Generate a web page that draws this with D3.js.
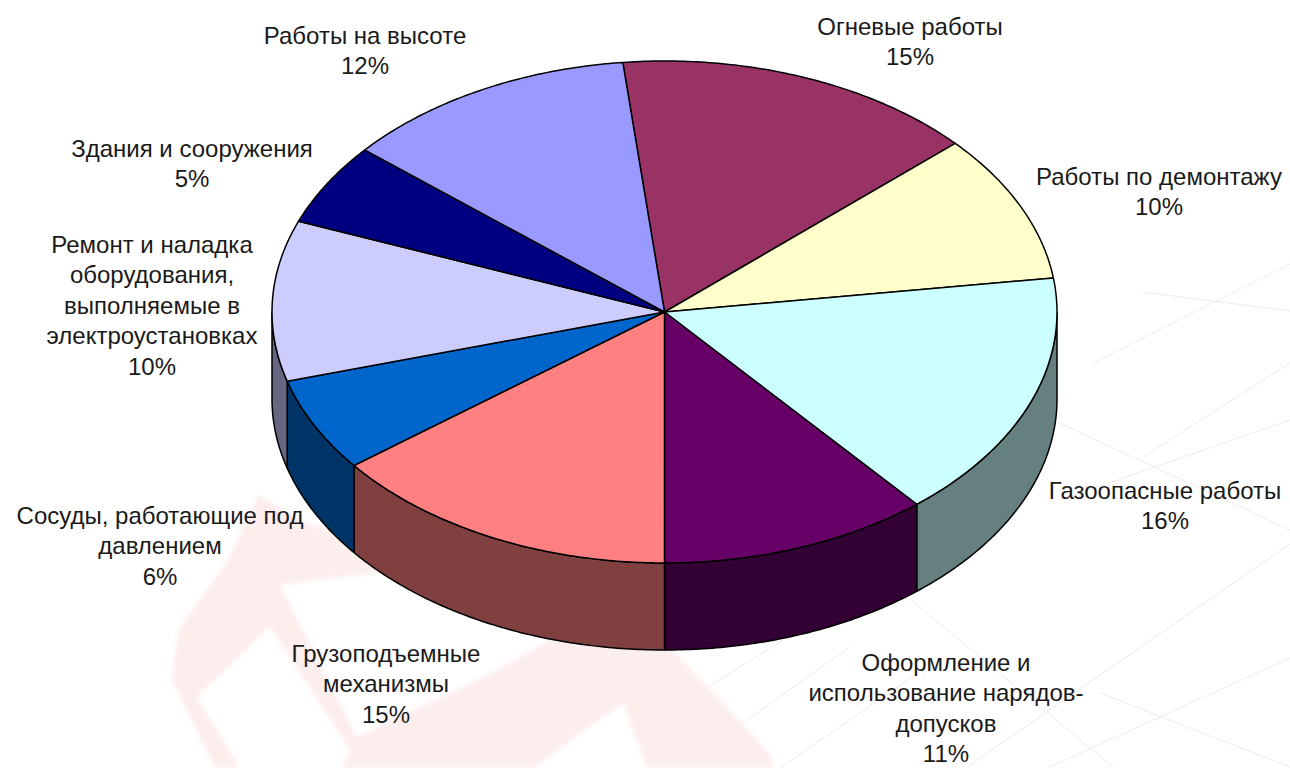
<!DOCTYPE html>
<html>
<head>
<meta charset="utf-8">
<script src="https://cdn.jsdelivr.net/npm/d3@7"></script>
<style>
  html, body { margin: 0; padding: 0; background: #fff; overflow: hidden; }
  text { font-family: "Liberation Sans", Arial, sans-serif; font-size: 24px; fill: #1a1a1a; }
</style>
</head>
<body>
<div id="chart"></div>
<script>
const categories = ['Огневые работы', 'Работы по демонтажу', 'Газоопасные работы',
  'Оформление и использование нарядов-допусков', 'Грузоподъемные механизмы',
  'Сосуды, работающие под давлением',
  'Ремонт и наладка оборудования, выполняемые в электроустановках',
  'Здания и сооружения', 'Работы на высоте'];
// they round to the printed percents
const shares = [14.97, 9.56, 16.06, 11.11, 14.53, 6.03, 10.33, 5.28, 12.14];
const topColors = ['#993366', '#ffffcc', '#ccffff', '#660066', '#ff8080', '#0066cc', '#ccccff', '#000080', '#9999ff'];
const wallColors = ['#4d1a33', '#808066', '#668080', '#330033', '#804040', '#003366', '#666680', '#000040', '#4d4d80'];
// how each label wraps, same order as categories
const labelLines = [
  ['Огневые работы'],
  ['Работы по демонтажу'],
  ['Газоопасные работы'],
  ['Оформление и', 'использование нарядов-', 'допусков'],
  ['Грузоподъемные', 'механизмы'],
  ['Сосуды, работающие под', 'давлением'],
  ['Ремонт и наладка', 'оборудования,', 'выполняемые в', 'электроустановках'],
  ['Здания и сооружения'],
  ['Работы на высоте']
];

const width = 1290, height = 768;
const cx = 664.5, cy = 312, rx = 392.5, ry = 251, depth = 87;
const lineGap = 30.5;
// center x and first line center y of each label
const labelAnchors = [[910, 26], [1159, 176], [1165, 490], [946, 662], [386, 653], [160, 515], [152, 244], [192, 148], [365, 35]];

const svg = d3.select('#chart').append('svg')
  .attr('width', width)
  .attr('height', height);

svg.append('defs').append('filter')
  .attr('id', 'soft')
  .append('feGaussianBlur')
  .attr('stdDeviation', 2);

drawBackground(svg.append('g').attr('id', 'backdrop'));

const scaleX = d3.scaleLinear().domain([-1, 1]).range([cx - rx, cx + rx]);
const scaleY = d3.scaleLinear().domain([-1, 1]).range([cy - ry, cy + ry]);

const startAngle = -6.1 * Math.PI / 180;
const pie = d3.pie().sort(null).startAngle(startAngle).endAngle(startAngle + 2 * Math.PI);
const slices = pie(shares);
const total = d3.sum(shares);
const pct = d3.format('.0%');

const rim = (a, drop = 0) => [scaleX(Math.sin(a)), scaleY(-Math.cos(a)) + drop];
const line = d3.line();

function arcPoints(a0, a1, drop) {
  const n = Math.max(2, Math.ceil(Math.abs(a1 - a0) * 90));
  return d3.range(n + 1).map(i => rim(a0 + (a1 - a0) * i / n, drop));
}

// side walls, only the front half of the rim shows
const pie3d = svg.append('g').attr('id', 'pie');
pie3d.selectAll('path.wall')
  .data(slices.filter(d => d.startAngle < 1.5 * Math.PI && d.endAngle > Math.PI / 2))
  .enter()
  .append('path')
  .attr('class', 'wall')
  .attr('fill', d => wallColors[d.index])
  .attr('stroke', '#000')
  .attr('stroke-width', 1.5)
  .attr('stroke-linejoin', 'round')
  .attr('d', d => {
    const a0 = Math.max(d.startAngle, Math.PI / 2);
    const a1 = Math.min(d.endAngle, 1.5 * Math.PI);
    return line(arcPoints(a0, a1, 0).concat(arcPoints(a1, a0, depth))) + 'Z';
  });

pie3d.selectAll('path.top')
  .data(slices)
  .enter()
  .append('path')
  .attr('class', 'top')
  .attr('fill', d => topColors[d.index])
  .attr('stroke', '#000')
  .attr('stroke-width', 1.5)
  .attr('stroke-linejoin', 'round')
  .attr('d', d => line([[scaleX(0), scaleY(0)]].concat(arcPoints(d.startAngle, d.endAngle, 0))) + 'Z');

const labels = svg.append('g').attr('id', 'labels')
  .selectAll('text')
  .data(slices)
  .enter()
  .append('text')
  .attr('text-anchor', 'middle');

labels.append('title').text(d => categories[d.index]);

labels.selectAll('tspan')
  .data(d => labelLines[d.index].concat(pct(d.data / total)).map((t, i) => ({ t, i, index: d.index })))
  .enter()
  .append('tspan')
  .attr('x', d => labelAnchors[d.index][0])
  .attr('y', d => labelAnchors[d.index][1] + d.i * lineGap)
  .attr('dy', '0.36em')
  .text(d => d.t);

// faint crane and floor grid behind the chart
function drawBackground(g) {
  const crane = g.append('g').attr('filter', 'url(#soft)');
  const blobs = [
    { fill: '#fdeeee', pts: [[172, 680], [178, 630], [228, 560], [258, 495], [300, 520], [664, 640], [720, 700], [767, 750], [775, 768], [215, 768]] },
    { fill: '#ffffff', pts: [[197, 697], [270, 627], [350, 750], [342, 768], [240, 768]] },
    { fill: '#ffffff', pts: [[280, 585], [357, 737], [483, 677], [570, 630], [400, 570]] },
    { fill: '#ffffff', pts: [[533, 768], [623, 703], [647, 768]] }
  ];
  blobs.forEach(b => crane.append('path').attr('fill', b.fill).attr('d', d3.line()(b.pts) + 'Z'));

  const grid = g.append('g').attr('fill', 'none').attr('stroke', '#f4e9e9').attr('stroke-width', 1);
  const rays = [
    [[1057, 422], [1150, 465], [1290, 530]],
    [[1093, 363], [1290, 264]],
    [[1143, 292], [1290, 311]],
    [[1143, 457], [1290, 363]],
    [[1060, 500], [1290, 420]],
    [[910, 599], [1113, 767]],
    [[967, 767], [1290, 544]],
    [[1050, 767], [1290, 658]],
    [[1100, 693], [1290, 767]],
    [[703, 690], [783, 640]],
    [[733, 730], [850, 647]],
    [[780, 768], [915, 675]]
  ];
  rays.forEach(r => grid.append('path').attr('d', d3.line()(r)));
}
</script>
</body>
</html>
